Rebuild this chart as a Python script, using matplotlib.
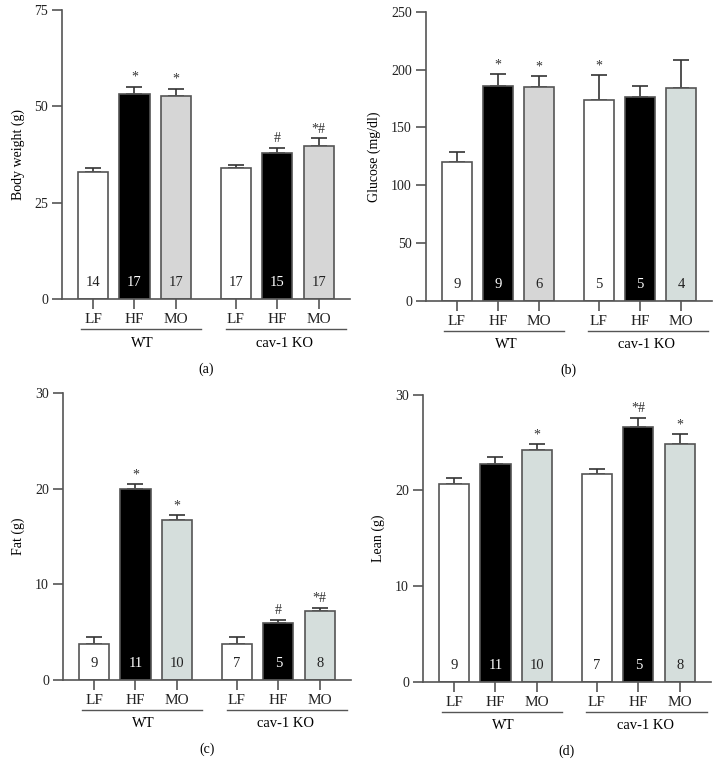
import matplotlib
matplotlib.use('Agg')
import matplotlib.pyplot as plt
import numpy as np
from matplotlib import rcParams

rcParams['font.family'] = 'serif'
rcParams['font.serif'] = ['Liberation Serif', 'DejaVu Serif']
rcParams['font.size'] = 10

### data ###
diets = ['LF', 'HF', 'MO', 'LF', 'HF', 'MO']
groups = ['WT', 'cav-1 KO']

body_mean = [33.0, 53.3, 52.6, 33.9, 37.9, 39.7]
body_err = [0.9, 1.8, 2.0, 0.8, 1.3, 2.0]
body_n = [14, 17, 17, 17, 15, 17]
body_sig = ['', '*', '*', '', '#', '*#']

gluc_mean = [119.8, 186.2, 185.3, 173.5, 176.7, 184.5]
gluc_err = [8.7, 9.8, 9.3, 21.7, 9.2, 24.2]
gluc_n = [9, 9, 6, 5, 5, 4]
gluc_sig = ['', '*', '*', '*', '', '']

fat_mean = [3.79, 19.93, 16.7, 3.76, 5.95, 7.17]
fat_err = [0.66, 0.52, 0.5, 0.76, 0.31, 0.38]
fat_n = [9, 11, 10, 7, 5, 8]
fat_sig = ['', '*', '*', '', '#', '*#']

lean_mean = [20.63, 22.71, 24.21, 21.74, 26.6, 24.8]
lean_err = [0.66, 0.8, 0.59, 0.45, 0.98, 1.1]
lean_n = [9, 11, 10, 7, 5, 8]
lean_sig = ['', '', '*', '', '*#', '*']

grey_mo = '#d6d6d6'
blue_mo = '#d5dedc'
edge = '#555555'

xpos = np.array([0, 1, 2, 3.45, 4.45, 5.45])


def panel(rect, mean, err, n, sig, ylim, yticks, ylabel, letter, mo_colors):
    ax = fig.add_axes(rect)
    colors = ['white', 'black', mo_colors[0], 'white', 'black', mo_colors[1]]
    ax.bar(xpos, mean, width=0.73, color=colors, edgecolor=edge, linewidth=1.2, zorder=2)
    ax.errorbar(xpos, mean, yerr=[np.zeros(6), err], fmt='none', ecolor='#333333',
                elinewidth=1.2, capsize=5.5, capthick=1.2, zorder=1)
    for i in range(6):
        tc = 'white' if colors[i] == 'black' else '#222222'
        ax.text(xpos[i], ylim[1]*0.035, str(n[i]), ha='center', va='bottom', color=tc, fontsize=10.5, zorder=3)
        if sig[i]:
            ax.annotate(sig[i], (xpos[i], mean[i]+err[i]), xytext=(0, 2), textcoords='offset points',
                        ha='center', va='bottom', fontsize=10, color='#333333')
    ax.set_xlim(-0.75, 6.2)
    ax.set_ylim(ylim)
    ax.set_yticks(yticks)
    ax.set_xticks(xpos)
    ax.set_xticklabels(diets, fontsize=11)
    ax.set_ylabel(ylabel, fontsize=10, labelpad=7)
    ax.spines['top'].set_visible(False)
    ax.spines['right'].set_visible(False)
    for s in ['left', 'bottom']:
        ax.spines[s].set_color(edge)
        ax.spines[s].set_linewidth(1.2)
    ax.tick_params(axis='both', direction='out', length=7, width=1.2, color=edge, labelcolor='#222222')
    ax.tick_params(axis='x', pad=3)
    ax.tick_params(axis='y', labelsize=10, pad=3)
    trans = ax.get_xaxis_transform()
    ax.plot([-0.3, 2.6], [-0.104, -0.104], color=edge, lw=1.0, transform=trans, clip_on=False)
    ax.plot([3.2, 6.1], [-0.104, -0.104], color=edge, lw=1.0, transform=trans, clip_on=False)
    ax.text(1.2, -0.13, groups[0], ha='center', va='top', transform=trans, fontsize=10.5)
    ax.text(4.62, -0.13, groups[1], ha='center', va='top', transform=trans, fontsize=10.5)
    ax.text(2.72, -0.242, letter, ha='center', va='center', transform=trans, fontsize=10)
    return ax


fig = plt.figure(figsize=(7.23, 7.81), dpi=100)

panel([0.0858, 0.6172, 0.398, 0.370], body_mean, body_err, body_n, body_sig,
      (0, 75), [0, 25, 50, 75], 'Body weight (g)', '(a)', [grey_mo, grey_mo])
panel([0.589, 0.615, 0.3956, 0.3697], gluc_mean, gluc_err, gluc_n, gluc_sig,
      (0, 250), [0, 50, 100, 150, 200, 250], 'Glucose (mg/dl)', '(b)', [grey_mo, blue_mo])
panel([0.0871, 0.1293, 0.398, 0.3677], fat_mean, fat_err, fat_n, fat_sig,
      (0, 30), [0, 10, 20, 30], 'Fat (g)', '(c)', [blue_mo, blue_mo])
panel([0.585, 0.1268, 0.398, 0.368], lean_mean, lean_err, lean_n, lean_sig,
      (0, 30), [0, 10, 20, 30], 'Lean (g)', '(d)', [blue_mo, blue_mo])

fig.savefig('out.png', dpi=100)
